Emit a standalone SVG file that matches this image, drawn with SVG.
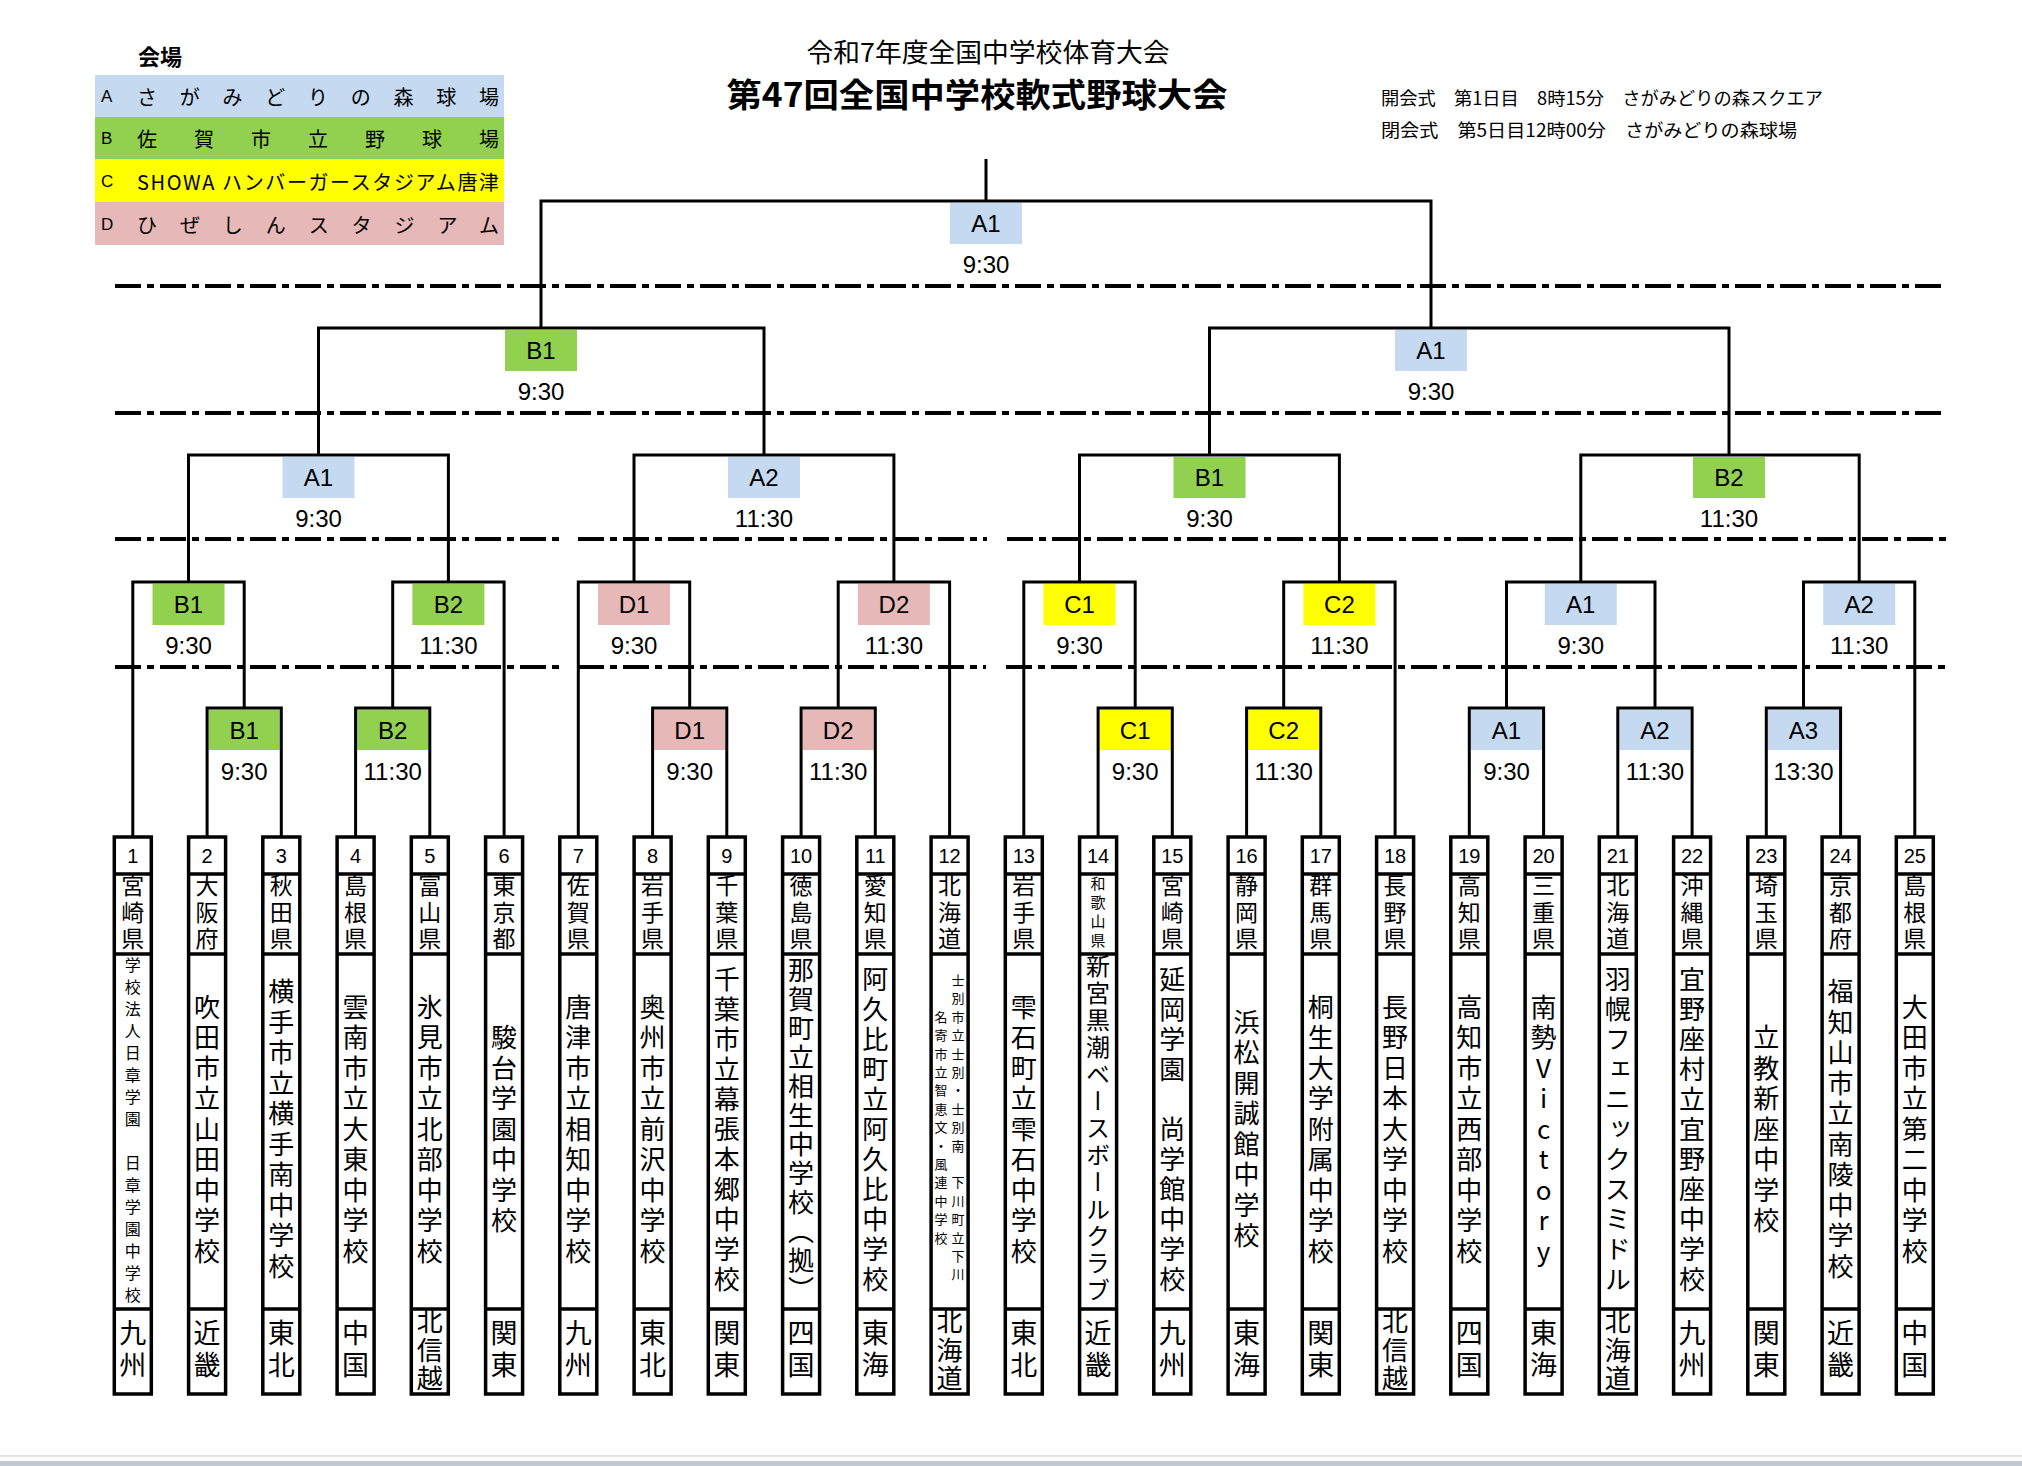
<svg xmlns="http://www.w3.org/2000/svg" width="2022" height="1466" viewBox="0 0 2022 1466">
<defs>
<style>
.jp{font-family:'Noto Sans CJK JP','Noto Sans',sans-serif;fill:#000}
.tb{fill:#fff;stroke:#000;stroke-width:3.5}
.tl{fill:none;stroke:#000;stroke-width:3.5}
.num{font-family:'Liberation Sans',Arial,sans-serif;font-size:20px;text-anchor:middle;dominant-baseline:central}
.v{font-family:'Noto Sans CJK JP',sans-serif;writing-mode:vertical-rl;text-orientation:upright;text-anchor:middle;fill:#000}
.pref{font-size:23px;letter-spacing:3.5px}
.pref4{font-size:15px;letter-spacing:4px}
.s10{font-size:26px;letter-spacing:4.5px}
.s11{font-size:26px;letter-spacing:4px}
.s12{font-size:26px;letter-spacing:3px}
.s13{font-size:24px;letter-spacing:3px}
.s16{font-size:16px;letter-spacing:6px}
.s17{font-size:13px;letter-spacing:5.4px}
.r2{font-size:27px;letter-spacing:5px}
.r3{font-size:26px;letter-spacing:2.5px}
.lbl{font-family:'Liberation Sans',Arial,sans-serif;font-size:24px;text-anchor:middle;dominant-baseline:central;fill:#000}
.fa{fill:#C5D9F1}.fb{fill:#92D050}.fc{fill:#FFFF00}.fd{fill:#E6B8B7}
.cn{fill:none;stroke:#000;stroke-width:3}
.dl{fill:none;stroke:#000;stroke-width:4;stroke-dasharray:26 6 7 6}
.lg{font-family:'Noto Sans CJK JP',sans-serif;font-size:20px;dominant-baseline:central}
.lgl{font-family:'Liberation Sans',Arial,sans-serif;font-size:17px;dominant-baseline:central}
</style>
</defs>
<rect width="2022" height="1466" fill="#fff"/>

<g id="header">
<text class="jp" x="988" y="50" font-size="26" text-anchor="middle" dominant-baseline="central" textLength="363" lengthAdjust="spacingAndGlyphs">令和7年度全国中学校体育大会</text>
<text class="jp" x="977" y="93" font-size="33" font-weight="bold" text-anchor="middle" dominant-baseline="central" textLength="501" lengthAdjust="spacingAndGlyphs">第47回全国中学校軟式野球大会</text>
<text class="jp" x="1381" y="97" font-size="18" dominant-baseline="central" textLength="442" lengthAdjust="spacingAndGlyphs">開会式　第1日目　8時15分　さがみどりの森スクエア</text>
<text class="jp" x="1381" y="129" font-size="18" dominant-baseline="central" textLength="416" lengthAdjust="spacingAndGlyphs">閉会式　第5日目12時00分　さがみどりの森球場</text>
</g>

<g id="legend">
<text class="jp" x="138" y="55" font-size="22" font-weight="bold" dominant-baseline="central">会場</text>
<rect class="fa" x="95" y="75" width="409" height="42"/>
<rect class="fb" x="95" y="117" width="409" height="42"/>
<rect class="fc" x="95" y="159" width="409" height="43"/>
<rect class="fd" x="95" y="202" width="409" height="43"/>
<text class="lgl" x="101" y="96">A</text>
<text class="lgl" x="101" y="138">B</text>
<text class="lgl" x="101" y="181">C</text>
<text class="lgl" x="101" y="224">D</text>
<text class="lg" x="137" y="96" textLength="362" lengthAdjust="spacing">さがみどりの森球場</text>
<text class="lg" x="137" y="138" textLength="362" lengthAdjust="spacing">佐賀市立野球場</text>
<text class="lg" x="137" y="181" textLength="362" lengthAdjust="spacing">SHOWA ハンバーガースタジアム唐津</text>
<text class="lg" x="137" y="224" textLength="362" lengthAdjust="spacing">ひぜしんスタジアム</text>
</g>

<g id="timelines">
<path class="dl" d="M115 286H1946M115 413H1946M115 539H560M578 539H987M1007 539H1946M115 667H560M578 667H986M1006 667H1946"/>
</g>

<g id="matches">
<g id="final"><rect class="fa" x="950" y="203" width="72" height="41"/><text class="lbl" x="986" y="223">A1</text><text class="lbl" x="986" y="264">9:30</text></g>
<g id="sf1"><rect class="fb" x="505" y="330" width="72" height="41"/><text class="lbl" x="541" y="350">B1</text><text class="lbl" x="541" y="391">9:30</text></g>
<g id="sf2"><rect class="fa" x="1395" y="330" width="72" height="41"/><text class="lbl" x="1431" y="350">A1</text><text class="lbl" x="1431" y="391">9:30</text></g>
<g id="qf1"><rect class="fa" x="282.5" y="457" width="72" height="41"/><text class="lbl" x="318.5" y="477">A1</text><text class="lbl" x="318.5" y="518">9:30</text></g>
<g id="qf2"><rect class="fa" x="728" y="457" width="72" height="41"/><text class="lbl" x="764" y="477">A2</text><text class="lbl" x="764" y="518">11:30</text></g>
<g id="qf3"><rect class="fb" x="1173.5" y="457" width="72" height="41"/><text class="lbl" x="1209.5" y="477">B1</text><text class="lbl" x="1209.5" y="518">9:30</text></g>
<g id="qf4"><rect class="fb" x="1693" y="457" width="72" height="41"/><text class="lbl" x="1729" y="477">B2</text><text class="lbl" x="1729" y="518">11:30</text></g>
<g id="r2-1"><rect class="fb" x="152.5" y="584" width="72" height="41"/><text class="lbl" x="188.5" y="604">B1</text><text class="lbl" x="188.5" y="645">9:30</text></g>
<g id="r2-2"><rect class="fb" x="412.4" y="584" width="72" height="41"/><text class="lbl" x="448.4" y="604">B2</text><text class="lbl" x="448.4" y="645">11:30</text></g>
<g id="r2-3"><rect class="fd" x="598" y="584" width="72" height="41"/><text class="lbl" x="634" y="604">D1</text><text class="lbl" x="634" y="645">9:30</text></g>
<g id="r2-4"><rect class="fd" x="857.9" y="584" width="72" height="41"/><text class="lbl" x="893.9" y="604">D2</text><text class="lbl" x="893.9" y="645">11:30</text></g>
<g id="r2-5"><rect class="fc" x="1043.5" y="584" width="72" height="41"/><text class="lbl" x="1079.5" y="604">C1</text><text class="lbl" x="1079.5" y="645">9:30</text></g>
<g id="r2-6"><rect class="fc" x="1303.4" y="584" width="72" height="41"/><text class="lbl" x="1339.4" y="604">C2</text><text class="lbl" x="1339.4" y="645">11:30</text></g>
<g id="r2-7"><rect class="fa" x="1544.8" y="584" width="72" height="41"/><text class="lbl" x="1580.8" y="604">A1</text><text class="lbl" x="1580.8" y="645">9:30</text></g>
<g id="r2-8"><rect class="fa" x="1823.2" y="584" width="72" height="41"/><text class="lbl" x="1859.2" y="604">A2</text><text class="lbl" x="1859.2" y="645">11:30</text></g>
<g id="r1-1"><rect class="fb" x="208.6" y="709.5" width="71.2" height="40.5"/><text class="lbl" x="244.2" y="730">B1</text><text class="lbl" x="244.2" y="771">9:30</text></g>
<g id="r1-2"><rect class="fb" x="357.1" y="709.5" width="71.2" height="40.5"/><text class="lbl" x="392.7" y="730">B2</text><text class="lbl" x="392.7" y="771">11:30</text></g>
<g id="r1-3"><rect class="fd" x="654.1" y="709.5" width="71.2" height="40.5"/><text class="lbl" x="689.7" y="730">D1</text><text class="lbl" x="689.7" y="771">9:30</text></g>
<g id="r1-4"><rect class="fd" x="802.6" y="709.5" width="71.2" height="40.5"/><text class="lbl" x="838.2" y="730">D2</text><text class="lbl" x="838.2" y="771">11:30</text></g>
<g id="r1-5"><rect class="fc" x="1099.6" y="709.5" width="71.2" height="40.5"/><text class="lbl" x="1135.2" y="730">C1</text><text class="lbl" x="1135.2" y="771">9:30</text></g>
<g id="r1-6"><rect class="fc" x="1248.1" y="709.5" width="71.2" height="40.5"/><text class="lbl" x="1283.7" y="730">C2</text><text class="lbl" x="1283.7" y="771">11:30</text></g>
<g id="r1-7"><rect class="fa" x="1470.8" y="709.5" width="71.2" height="40.5"/><text class="lbl" x="1506.5" y="730">A1</text><text class="lbl" x="1506.5" y="771">9:30</text></g>
<g id="r1-8"><rect class="fa" x="1619.3" y="709.5" width="71.2" height="40.5"/><text class="lbl" x="1655" y="730">A2</text><text class="lbl" x="1655" y="771">11:30</text></g>
<g id="r1-9"><rect class="fa" x="1767.8" y="709.5" width="71.2" height="40.5"/><text class="lbl" x="1803.5" y="730">A3</text><text class="lbl" x="1803.5" y="771">13:30</text></g>
</g>

<g id="teams">
<g id="team1"><rect class="tb" x="114.3" y="837" width="37" height="557"/><path class="tl" d="M114.3 874h37M114.3 954h37M114.3 1309h37"/><text class="num" x="132.8" y="856">1</text><text class="v pref" x="132.8" y="914">宮崎県</text><text class="v s16" x="132.8" y="1133">学校法人日章学園　日章学園中学校</text><text class="v r2" x="132.8" y="1351">九州</text></g>
<g id="team2"><rect class="tb" x="188.6" y="837" width="37" height="557"/><path class="tl" d="M188.6 874h37M188.6 954h37M188.6 1309h37"/><text class="num" x="207.1" y="856">2</text><text class="v pref" x="207.1" y="914">大阪府</text><text class="v s10" x="207.1" y="1131">吹田市立山田中学校</text><text class="v r2" x="207.1" y="1351">近畿</text></g>
<g id="team3"><rect class="tb" x="262.8" y="837" width="37" height="557"/><path class="tl" d="M262.8 874h37M262.8 954h37M262.8 1309h37"/><text class="num" x="281.3" y="856">3</text><text class="v pref" x="281.3" y="914">秋田県</text><text class="v s10" x="281.3" y="1131">横手市立横手南中学校</text><text class="v r2" x="281.3" y="1351">東北</text></g>
<g id="team4"><rect class="tb" x="337.1" y="837" width="37" height="557"/><path class="tl" d="M337.1 874h37M337.1 954h37M337.1 1309h37"/><text class="num" x="355.6" y="856">4</text><text class="v pref" x="355.6" y="914">島根県</text><text class="v s10" x="355.6" y="1131">雲南市立大東中学校</text><text class="v r2" x="355.6" y="1351">中国</text></g>
<g id="team5"><rect class="tb" x="411.3" y="837" width="37" height="557"/><path class="tl" d="M411.3 874h37M411.3 954h37M411.3 1309h37"/><text class="num" x="429.8" y="856">5</text><text class="v pref" x="429.8" y="914">富山県</text><text class="v s10" x="429.8" y="1131">氷見市立北部中学校</text><text class="v r3" x="429.8" y="1351">北信越</text></g>
<g id="team6"><rect class="tb" x="485.6" y="837" width="37" height="557"/><path class="tl" d="M485.6 874h37M485.6 954h37M485.6 1309h37"/><text class="num" x="504.1" y="856">6</text><text class="v pref" x="504.1" y="914">東京都</text><text class="v s10" x="504.1" y="1131">駿台学園中学校</text><text class="v r2" x="504.1" y="1351">関東</text></g>
<g id="team7"><rect class="tb" x="559.8" y="837" width="37" height="557"/><path class="tl" d="M559.8 874h37M559.8 954h37M559.8 1309h37"/><text class="num" x="578.3" y="856">7</text><text class="v pref" x="578.3" y="914">佐賀県</text><text class="v s10" x="578.3" y="1131">唐津市立相知中学校</text><text class="v r2" x="578.3" y="1351">九州</text></g>
<g id="team8"><rect class="tb" x="634.1" y="837" width="37" height="557"/><path class="tl" d="M634.1 874h37M634.1 954h37M634.1 1309h37"/><text class="num" x="652.6" y="856">8</text><text class="v pref" x="652.6" y="914">岩手県</text><text class="v s10" x="652.6" y="1131">奥州市立前沢中学校</text><text class="v r2" x="652.6" y="1351">東北</text></g>
<g id="team9"><rect class="tb" x="708.3" y="837" width="37" height="557"/><path class="tl" d="M708.3 874h37M708.3 954h37M708.3 1309h37"/><text class="num" x="726.8" y="856">9</text><text class="v pref" x="726.8" y="914">千葉県</text><text class="v s11" x="726.8" y="1131">千葉市立幕張本郷中学校</text><text class="v r2" x="726.8" y="1351">関東</text></g>
<g id="team10"><rect class="tb" x="782.6" y="837" width="37" height="557"/><path class="tl" d="M782.6 874h37M782.6 954h37M782.6 1309h37"/><text class="num" x="801.1" y="856">10</text><text class="v pref" x="801.1" y="914">徳島県</text><text class="v s12" x="801.1" y="1131">那賀町立相生中学校（拠）</text><text class="v r2" x="801.1" y="1351">四国</text></g>
<g id="team11"><rect class="tb" x="856.8" y="837" width="37" height="557"/><path class="tl" d="M856.8 874h37M856.8 954h37M856.8 1309h37"/><text class="num" x="875.3" y="856">11</text><text class="v pref" x="875.3" y="914">愛知県</text><text class="v s11" x="875.3" y="1131">阿久比町立阿久比中学校</text><text class="v r2" x="875.3" y="1351">東海</text></g>
<g id="team12"><rect class="tb" x="931.1" y="837" width="37" height="557"/><path class="tl" d="M931.1 874h37M931.1 954h37M931.1 1309h37"/><text class="num" x="949.6" y="856">12</text><text class="v pref" x="949.6" y="914">北海道</text><text class="v s17" x="958.1" y="1130">士別市立士別・士別南　下川町立下川</text><text class="v s17" x="941.1" y="1130">名寄市立智恵文・風連中学校</text><text class="v r3" x="949.6" y="1351">北海道</text></g>
<g id="team13"><rect class="tb" x="1005.3" y="837" width="37" height="557"/><path class="tl" d="M1005.3 874h37M1005.3 954h37M1005.3 1309h37"/><text class="num" x="1023.8" y="856">13</text><text class="v pref" x="1023.8" y="914">岩手県</text><text class="v s10" x="1023.8" y="1131">雫石町立雫石中学校</text><text class="v r2" x="1023.8" y="1351">東北</text></g>
<g id="team14"><rect class="tb" x="1079.6" y="837" width="37" height="557"/><path class="tl" d="M1079.6 874h37M1079.6 954h37M1079.6 1309h37"/><text class="num" x="1098.1" y="856">14</text><text class="v pref4" x="1098.1" y="914">和歌山県</text><text class="v s13" x="1098.1" y="1129">新宮黒潮ベースボールクラブ</text><text class="v r2" x="1098.1" y="1351">近畿</text></g>
<g id="team15"><rect class="tb" x="1153.8" y="837" width="37" height="557"/><path class="tl" d="M1153.8 874h37M1153.8 954h37M1153.8 1309h37"/><text class="num" x="1172.3" y="856">15</text><text class="v pref" x="1172.3" y="914">宮崎県</text><text class="v s11" x="1172.3" y="1131">延岡学園　尚学館中学校</text><text class="v r2" x="1172.3" y="1351">九州</text></g>
<g id="team16"><rect class="tb" x="1228.1" y="837" width="37" height="557"/><path class="tl" d="M1228.1 874h37M1228.1 954h37M1228.1 1309h37"/><text class="num" x="1246.6" y="856">16</text><text class="v pref" x="1246.6" y="914">静岡県</text><text class="v s10" x="1246.6" y="1131">浜松開誠館中学校</text><text class="v r2" x="1246.6" y="1351">東海</text></g>
<g id="team17"><rect class="tb" x="1302.3" y="837" width="37" height="557"/><path class="tl" d="M1302.3 874h37M1302.3 954h37M1302.3 1309h37"/><text class="num" x="1320.8" y="856">17</text><text class="v pref" x="1320.8" y="914">群馬県</text><text class="v s10" x="1320.8" y="1131">桐生大学附属中学校</text><text class="v r2" x="1320.8" y="1351">関東</text></g>
<g id="team18"><rect class="tb" x="1376.6" y="837" width="37" height="557"/><path class="tl" d="M1376.6 874h37M1376.6 954h37M1376.6 1309h37"/><text class="num" x="1395.1" y="856">18</text><text class="v pref" x="1395.1" y="914">長野県</text><text class="v s10" x="1395.1" y="1131">長野日本大学中学校</text><text class="v r3" x="1395.1" y="1351">北信越</text></g>
<g id="team19"><rect class="tb" x="1450.8" y="837" width="37" height="557"/><path class="tl" d="M1450.8 874h37M1450.8 954h37M1450.8 1309h37"/><text class="num" x="1469.3" y="856">19</text><text class="v pref" x="1469.3" y="914">高知県</text><text class="v s10" x="1469.3" y="1131">高知市立西部中学校</text><text class="v r2" x="1469.3" y="1351">四国</text></g>
<g id="team20"><rect class="tb" x="1525.1" y="837" width="37" height="557"/><path class="tl" d="M1525.1 874h37M1525.1 954h37M1525.1 1309h37"/><text class="num" x="1543.6" y="856">20</text><text class="v pref" x="1543.6" y="914">三重県</text><text class="v s10" x="1543.6" y="1131">南勢Victory</text><text class="v r2" x="1543.6" y="1351">東海</text></g>
<g id="team21"><rect class="tb" x="1599.3" y="837" width="37" height="557"/><path class="tl" d="M1599.3 874h37M1599.3 954h37M1599.3 1309h37"/><text class="num" x="1617.8" y="856">21</text><text class="v pref" x="1617.8" y="914">北海道</text><text class="v s11" x="1617.8" y="1131">羽幌フェニックスミドル</text><text class="v r3" x="1617.8" y="1351">北海道</text></g>
<g id="team22"><rect class="tb" x="1673.6" y="837" width="37" height="557"/><path class="tl" d="M1673.6 874h37M1673.6 954h37M1673.6 1309h37"/><text class="num" x="1692.1" y="856">22</text><text class="v pref" x="1692.1" y="914">沖縄県</text><text class="v s11" x="1692.1" y="1131">宜野座村立宜野座中学校</text><text class="v r2" x="1692.1" y="1351">九州</text></g>
<g id="team23"><rect class="tb" x="1747.8" y="837" width="37" height="557"/><path class="tl" d="M1747.8 874h37M1747.8 954h37M1747.8 1309h37"/><text class="num" x="1766.3" y="856">23</text><text class="v pref" x="1766.3" y="914">埼玉県</text><text class="v s10" x="1766.3" y="1131">立教新座中学校</text><text class="v r2" x="1766.3" y="1351">関東</text></g>
<g id="team24"><rect class="tb" x="1822.1" y="837" width="37" height="557"/><path class="tl" d="M1822.1 874h37M1822.1 954h37M1822.1 1309h37"/><text class="num" x="1840.6" y="856">24</text><text class="v pref" x="1840.6" y="914">京都府</text><text class="v s10" x="1840.6" y="1131">福知山市立南陵中学校</text><text class="v r2" x="1840.6" y="1351">近畿</text></g>
<g id="team25"><rect class="tb" x="1896.3" y="837" width="37" height="557"/><path class="tl" d="M1896.3 874h37M1896.3 954h37M1896.3 1309h37"/><text class="num" x="1914.8" y="856">25</text><text class="v pref" x="1914.8" y="914">島根県</text><text class="v s10" x="1914.8" y="1131">大田市立第二中学校</text><text class="v r2" x="1914.8" y="1351">中国</text></g>
</g>

<g id="connectors">
<path class="cn" d="M986 159V201M541 328V201H1431V328"/>
<path class="cn" d="M318.5 455V328H764V455M1209.5 455V328H1729V455"/>
<path class="cn" d="M188.5 582V455H448.4V582M634 582V455H893.9V582M1079.5 582V455H1339.4V582M1580.8 582V455H1859.2V582"/>
<path class="cn" d="M132.8 837V582H244.2V708M392.7 708V582H504.1V837M578.3 837V582H689.7V708M838.2 708V582H949.6V837M1023.8 837V582H1135.2V708M1283.7 708V582H1395.1V837M1506.5 708V582H1655V708M1803.5 708V582H1914.8V837"/>
<path class="cn" d="M207.1 837V708H281.3V837M355.6 837V708H429.8V837M652.6 837V708H726.8V837M801.1 837V708H875.3V837M1098.1 837V708H1172.3V837M1246.6 837V708H1320.8V837M1469.3 837V708H1543.6V837M1617.8 837V708H1692.1V837M1766.3 837V708H1840.6V837"/>
</g>

<g id="page-edge">
<rect x="0" y="1455" width="2022" height="2" fill="#e2e2e2"/>
<rect x="0" y="1461" width="2022" height="5" fill="#c3c7d1"/>
</g>
</svg>
